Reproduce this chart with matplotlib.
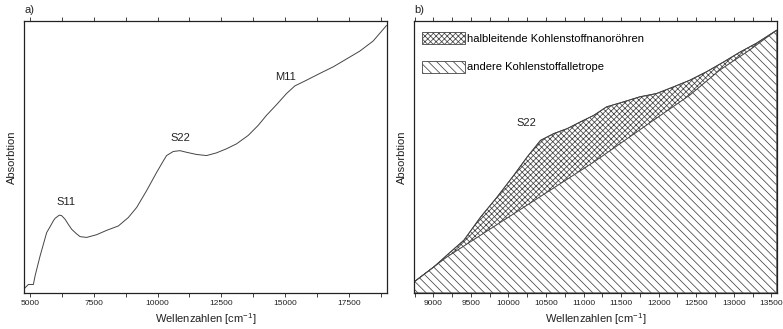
import numpy as np
import matplotlib
matplotlib.use("Agg")
import matplotlib.pyplot as plt
from matplotlib.patches import Patch

plt.rcParams['font.family'] = ['Liberation Sans', 'DejaVu Sans']
plt.rcParams['mathtext.default'] = 'regular'
plt.rcParams['hatch.linewidth'] = 0.55
plt.rcParams['hatch.color'] = '#444444'

# --- a) full absorption spectrum ---
wn_a = [4765, 4935, 5131, 5196, 5392, 5653, 5784, 5914, 5980, 6149, 6241, 6372,
        6502, 6633, 6803, 6959, 7221, 7612, 8004, 8461, 8853, 9180, 9572, 9964,
        10225, 10355, 10617, 10878, 11139, 11531, 11923, 12315, 12707, 13098,
        13556, 13948, 14274, 14666, 15058, 15384, 15841, 16364, 16886, 17409,
        17932, 18454, 18977]
abs_a = [0.015, 0.031, 0.031, 0.062, 0.135, 0.222, 0.243, 0.265, 0.274, 0.286,
         0.284, 0.271, 0.252, 0.234, 0.219, 0.207, 0.204, 0.214, 0.230, 0.246,
         0.277, 0.314, 0.376, 0.443, 0.485, 0.505, 0.520, 0.523, 0.517, 0.509,
         0.505, 0.515, 0.530, 0.548, 0.579, 0.616, 0.653, 0.692, 0.733, 0.761,
         0.782, 0.807, 0.831, 0.860, 0.889, 0.926, 0.983]
peaks_a = ["S11", "S22", "M11"]
peak_wn_a = [6398, 10878, 15018]
peak_abs_a = [0.333, 0.569, 0.792]

# --- b) S22 region: measured curve and background ---
wn_b = [8743, 9009, 9231, 9408, 9630, 9851, 10073, 10250, 10428, 10605, 10782,
        10960, 11137, 11306, 11527, 11749, 11971, 12192, 12414, 12636, 12857,
        13079, 13301, 13571]
abs_b = [0.040, 0.096, 0.151, 0.194, 0.279, 0.353, 0.433, 0.500, 0.561, 0.586,
         0.604, 0.629, 0.653, 0.684, 0.702, 0.721, 0.733, 0.757, 0.782, 0.813,
         0.848, 0.885, 0.918, 0.966]
wn_bg = [8743, 9182, 11137, 11975, 12414, 12813, 13212, 13571]
abs_bg = [0.040, 0.132, 0.481, 0.643, 0.727, 0.819, 0.893, 0.966]
legend_labels = ["halbleitende Kohlenstoffnanoröhren", "andere Kohlenstoffalletrope"]

fig = plt.figure(figsize=(7.83, 3.29), dpi=100)
ax_a = fig.add_axes([0.0307, 0.1097, 0.4636, 0.8267])
ax_b = fig.add_axes([0.5291, 0.1097, 0.4628, 0.8267])

xlabel = r'Wellenzahlen [cm$^{-1}$]'
tick_col = '#222222'
line_col = '#444444'
cross_hatch = 'xxxxxx'
diag_hatch = '\\' * 4

def style(ax):
    for s in ax.spines.values():
        s.set_linewidth(0.9)
        s.set_color('#222222')
    ax.set_yticks([])
    ax.tick_params(axis='x', which='both', direction='out', top=True, bottom=True,
                   labelsize=6, colors=tick_col, width=0.6, pad=2, length=3)
    ax.set_xlabel(xlabel, fontsize=8, labelpad=3, color=tick_col)
    ax.set_ylabel('Absorbtion', fontsize=8, labelpad=5, color=tick_col)

# panel a
ax_a.plot(wn_a, abs_a, color=line_col, lw=0.7)
ax_a.set_xlim(4765, 19000)
ax_a.set_ylim(0, 1)
ax_a.set_xticks([5000, 7500, 10000, 12500, 15000, 17500])
ax_a.set_xticks(np.arange(6250, 19000, 2500), minor=True)
style(ax_a)
for lab, x, y in zip(peaks_a, peak_wn_a, peak_abs_a):
    ax_a.text(x, y, lab, fontsize=8, ha='center', va='center', color=tick_col)
ax_a.text(0.0, 1.02, 'a)', transform=ax_a.transAxes, fontsize=8,
          ha='left', va='bottom', color=tick_col)

# panel b
xmin_b, xmax_b = 8747, 13570
ax_b.fill(np.concatenate([wn_b, wn_bg[::-1]]), np.concatenate([abs_b, abs_bg[::-1]]),
          facecolor='white', edgecolor=line_col, hatch=cross_hatch, lw=0.6)
ax_b.fill(np.concatenate([wn_bg, [wn_bg[-1], wn_bg[0]]]),
          np.concatenate([abs_bg, [0, 0]]),
          facecolor='white', edgecolor=line_col, hatch=diag_hatch, lw=0.6)
ax_b.plot(wn_b, abs_b, color=line_col, lw=0.7)
ax_b.set_xlim(xmin_b, xmax_b)
ax_b.set_ylim(0, 1)
ax_b.set_xticks(np.arange(9000, 13501, 500))
ax_b.set_xticks(np.arange(8750, 13600, 500), minor=True)
style(ax_b)
ax_b.text(10242, 0.625, 'S22', fontsize=8, ha='center', va='center', color=tick_col)
ax_b.text(0.0, 1.02, 'b)', transform=ax_b.transAxes, fontsize=8,
          ha='left', va='bottom', color=tick_col)

handles = [Patch(facecolor='white', edgecolor=line_col, hatch=cross_hatch, lw=0.6),
           Patch(facecolor='white', edgecolor=line_col, hatch=diag_hatch, lw=0.6)]
ax_b.legend(handles, legend_labels, loc='upper left', bbox_to_anchor=(0.02, 0.96),
            frameon=False, fontsize=8, handlelength=3.9, handleheight=1.3,
            handletextpad=0.15, labelspacing=1.5, borderpad=0, borderaxespad=0)

fig.savefig('out.png', dpi=100)
